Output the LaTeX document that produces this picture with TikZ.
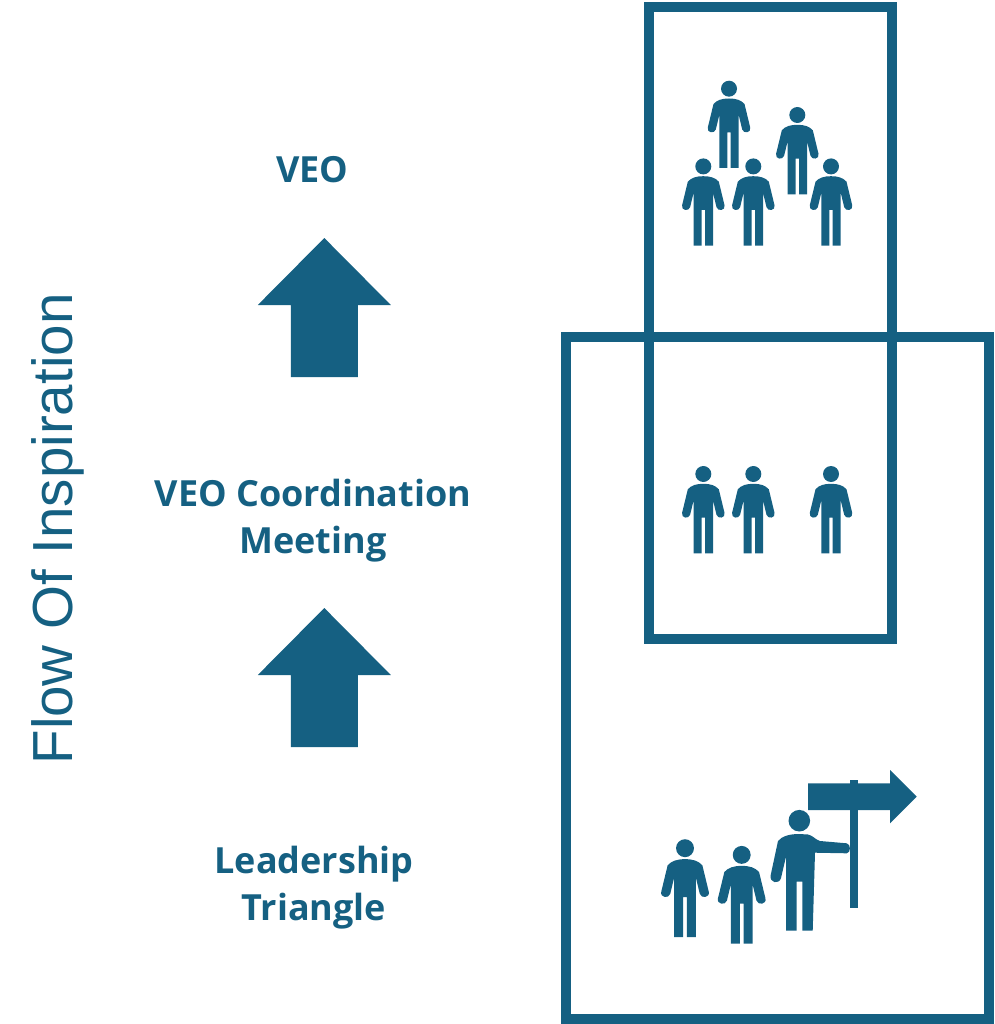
\documentclass[tikz,border=0pt]{standalone}
\usepackage{fontspec}
\setmainfont{Open Sans}
\newfontfamily\flowfont{Liberation Sans}
\usetikzlibrary{positioning}
\definecolor{veoblue}{HTML}{156082}

\begin{document}
\begin{tikzpicture}[
    x=1pt, y=-1pt,
    frame/.style={draw=veoblue, line width=10pt},
    heading/.style={text=veoblue, align=center, anchor=base, inner sep=0pt, font=\fontsize{36}{47}\selectfont\bfseries},
    person/.pic={
      \fill[veoblue] (0,-79.3) circle (8);
      \fill[veoblue] (0,-69.5) .. controls (-7,-69.5) and (-12,-68) .. (-15.5,-64)
        -- (-21.2,-40.5) .. controls (-22.5,-35) and (-14.5,-34) .. (-13.2,-38.5)
        -- (-9.7,-53) -- (-9.7,0) -- (-1.7,0) -- (-1.7,-35.7) -- (1.7,-35.7) -- (1.7,0) -- (9.7,0) -- (9.7,-53)
        -- (13.2,-38.5) .. controls (14.5,-34) and (22.5,-35) .. (21.2,-40.5)
        -- (15.5,-64) .. controls (12,-68) and (7,-69.5) .. (0,-69.5) -- cycle;
    },
    uparrow/.pic={
      \fill[veoblue] (0,0) -- (66.5,67) -- (33.5,67) -- (33.5,139) -- (-33.5,139) -- (-33.5,67) -- (-66.5,67) -- cycle;
    }
  ]
    \useasboundingbox (0,0) rectangle (994,1024);
    % boxes
    \draw[frame] (566,337) rectangle (989,1019);
    \draw[frame] (648.5,7.5) rectangle (892,639);
    % left column
    \node[heading] (veo) at (312.5,183) {VEO};
    \node[heading] (meeting) at (313,553) {VEO Coordination\\Meeting};
    \node[heading] (triangle) at (314,920) {Leadership\\Triangle};
    \node[text=veoblue, rotate=90, anchor=base, inner sep=0pt, font=\fontsize{56.5}{60}\selectfont\flowfont] (flow) at (72,529) {Flow Of Inspiration};
    \pic at (324.3,238) {uparrow};
    \pic at (324.3,608) {uparrow};
    % people in the upper box
    \foreach \px/\py in {729/168, 797.3/194.3, 703.3/245.7, 753.3/245.7, 831/245.7}
      \pic at (\px,\py) {person};
    \foreach \px in {703.3, 753.3, 831}
      \pic at (\px,553.3) {person};
    % leader and sign
    \pic[scale=1.12] at (685,937) {person};
    \pic[scale=1.12] at (741.7,943.7) {person};
    \fill[veoblue] (799.3,820.7) circle (10.8);
    \fill[veoblue] (799,834) .. controls (790,834) and (782,836) .. (778,841)
      -- (770.7,875) .. controls (769,883) and (779,885) .. (781,878)
      -- (786,856.7) -- (786,930.7) -- (796.7,930.7) -- (796.7,881.7) -- (802.3,881.7) -- (802.3,930.7) -- (812.7,930.7)
      -- (815,852.7) -- (846.7,853.3) .. controls (851,853) and (851,844) .. (846.7,843.3)
      -- (820,841) .. controls (816,840) and (812,835) .. (808,834.5) -- cycle;
    \fill[veoblue] (850.3,780) rectangle (857.7,908.3);
    \fill[veoblue] (808,783.3) -- (890,783.3) -- (890,770) -- (916.7,796.7) -- (890,823.3) -- (890,810) -- (808,810) -- cycle;
\end{tikzpicture}
\end{document}
